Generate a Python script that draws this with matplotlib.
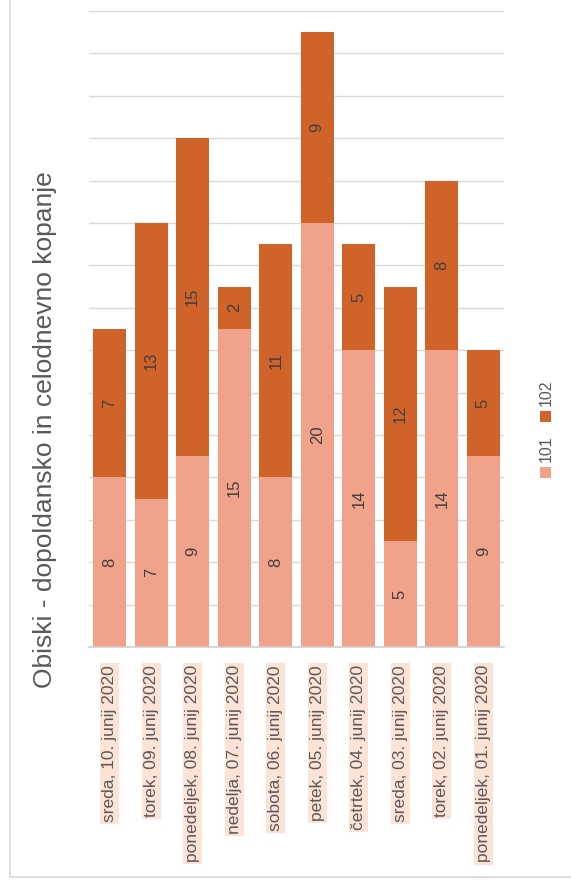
import matplotlib
matplotlib.use("Agg")
import matplotlib.pyplot as plt
from matplotlib.patches import Rectangle
from matplotlib.lines import Line2D

plt.rcParams['font.family'] = ['Liberation Sans', 'DejaVu Sans']

days = ["sreda, 10. junij 2020", "torek, 09. junij 2020", "ponedeljek, 08. junij 2020",
        "nedelja, 07. junij 2020", "sobota, 06. junij 2020", "petek, 05. junij 2020",
        "četrtek, 04. junij 2020", "sreda, 03. junij 2020", "torek, 02. junij 2020",
        "ponedeljek, 01. junij 2020"]
visits_101 = [8, 7, 9, 15, 8, 20, 14, 5, 14, 9]
visits_102 = [7, 13, 15, 2, 11, 9, 5, 12, 8, 5]
series_names = ["101", "102"]
title = "Obiski - dopoldansko in celodnevno kopanje"

c101 = "#F0A28A"
c102 = "#D0632A"
text_grey = "#595959"
grid_grey = "#D9D9D9"

W, H = 571, 888
fig = plt.figure(figsize=(W / 100, H / 100), dpi=100)
ax = fig.add_axes([89 / W, (H - 647) / H, (504 - 89) / W, (647 - 11) / H])

x = list(range(len(days)))
b1 = ax.bar(x, visits_101, width=0.8, color=c101, zorder=2)
b2 = ax.bar(x, visits_102, width=0.8, bottom=visits_101, color=c102, zorder=2)

for bars, vals, bottoms in ((b1, visits_101, [0] * len(x)), (b2, visits_102, visits_101)):
    for rect, v, b in zip(bars, vals, bottoms):
        ax.text(rect.get_x() + rect.get_width() / 2, b + v / 2, str(v),
                rotation=90, ha="center", va="center", fontsize=12, color="#404040")

ax.set_xlim(-0.5, len(days) - 0.5)
ax.set_ylim(0, 30)
ax.set_yticks(range(0, 31, 2))
ax.yaxis.grid(True, color=grid_grey, lw=1, zorder=0)
ax.set_axisbelow(True)
ax.tick_params(axis="y", left=False, labelleft=False)
for s in ("top", "right", "left"):
    ax.spines[s].set_visible(False)
ax.spines["bottom"].set_color("#D0D0D0")
ax.spines["bottom"].set_linewidth(1.2)

ax.set_xticks(x)
ax.set_xticklabels(days, rotation=90, fontsize=12.5, color=text_grey)
ax.tick_params(axis="x", length=0, pad=13)
for lbl in ax.get_xticklabels():
    lbl.set_bbox(dict(facecolor="#FCE3D6", edgecolor="none", pad=1.5))

fig.text(45 / W, 1 - 430 / H, title, rotation=90, ha="center", va="center",
         fontsize=19, color=text_grey)

# legend, drawn vertically along the right edge
for name, color, yc in ((series_names[0], c101, 472), (series_names[1], c102, 416)):
    fig.patches.append(Rectangle(((540) / W, 1 - (yc + 6) / H), 11 / W, 11 / H,
                                 transform=fig.transFigure, facecolor=color,
                                 edgecolor="none"))
    fig.text(546 / W, 1 - (yc - 10) / H, name, rotation=90, ha="center", va="bottom",
             fontsize=11.5, color=text_grey)

# outer frame
fig.lines.append(Line2D([10 / W, 10 / W], [1 - 877 / H, 1], transform=fig.transFigure,
                        color=grid_grey, lw=1.2))
fig.lines.append(Line2D([10 / W, 1], [1 - 877 / H, 1 - 877 / H], transform=fig.transFigure,
                        color=grid_grey, lw=1.2))

fig.savefig("out.png", dpi=100, facecolor="white")
